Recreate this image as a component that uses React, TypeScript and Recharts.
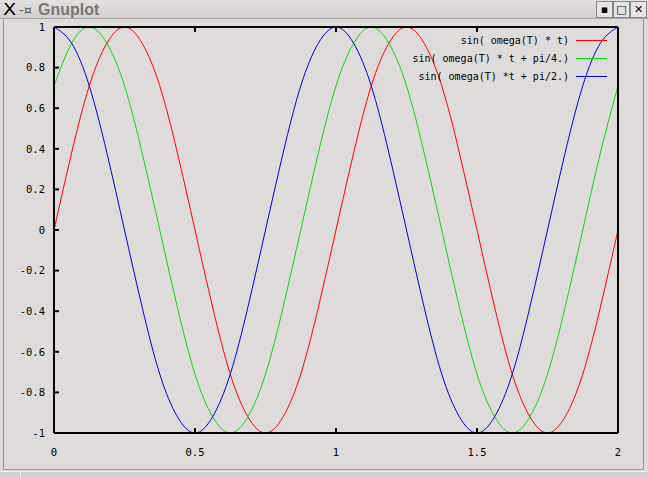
import React from 'react';
import { LineChart, Line, XAxis, YAxis, Legend } from 'recharts';

// sample points in t
const tValues = [
  0, 0.0625, 0.125, 0.1875, 0.25, 0.3125, 0.375, 0.4375, 0.5, 0.5625, 0.625, 0.6875, 0.75, 0.8125, 0.875, 0.9375,
  1, 1.0625, 1.125, 1.1875, 1.25, 1.3125, 1.375, 1.4375, 1.5, 1.5625, 1.625, 1.6875, 1.75, 1.8125, 1.875, 1.9375, 2,
];

const redValues = [
  0, 0.38, 0.71, 0.92, 1, 0.92, 0.71, 0.38, 0, -0.38, -0.71, -0.92, -1, -0.92, -0.71, -0.38,
  0, 0.38, 0.71, 0.92, 1, 0.92, 0.71, 0.38, 0, -0.38, -0.71, -0.92, -1, -0.92, -0.71, -0.38, 0,
];

const greenValues = [
  0.71, 0.92, 1, 0.92, 0.71, 0.38, 0, -0.38, -0.71, -0.92, -1, -0.92, -0.71, -0.38, 0, 0.38,
  0.71, 0.92, 1, 0.92, 0.71, 0.38, 0, -0.38, -0.71, -0.92, -1, -0.92, -0.71, -0.38, 0, 0.38, 0.71,
];

const blueValues = [
  1, 0.92, 0.71, 0.38, 0, -0.38, -0.71, -0.92, -1, -0.92, -0.71, -0.38, 0, 0.38, 0.71, 0.92,
  1, 0.92, 0.71, 0.38, 0, -0.38, -0.71, -0.92, -1, -0.92, -0.71, -0.38, 0, 0.38, 0.71, 0.92, 1,
];

const seriesNames = ['sin( omega(T) * t)', 'sin( omega(T) * t + pi/4.)', 'sin( omega(T) *t + pi/2.)'];

const xTicks = [0, 0.5, 1, 1.5, 2];
const xTickLabels = ['0', '0.5', '1', '1.5', '2'];
const yTicks = [-1, -0.8, -0.6, -0.4, -0.2, 0, 0.2, 0.4, 0.6, 0.8, 1];
const yTickLabels = ['-1', '-0.8', '-0.6', '-0.4', '-0.2', '0', '0.2', '0.4', '0.6', '0.8', '1'];

const data = tValues.map((t, i) => ({
  t,
  red: redValues[i],
  green: greenValues[i],
  blue: blueValues[i],
}));

const BG = '#dfdbdb';
const MONO = '"DejaVu Sans Mono", "Liberation Mono", monospace';
const tickFont = { fontFamily: MONO, fontSize: 10.5, fill: '#000' };

const labelFor = (ticks: number[], labels: string[]) => (v: number) => {
  const i = ticks.findIndex((x) => Math.abs(x - v) < 1e-9);
  return i >= 0 ? labels[i] : String(v);
};

// keep the plotting order (the library sorts by name otherwise)
const renderLegend = (props: any) => {
  const payload = [...(props.payload || [])].sort(
    (a: any, b: any) => seriesNames.indexOf(a.value) - seriesNames.indexOf(b.value)
  );
  return (
    <div>
      {payload.map((entry: any) => (
        <div
          key={entry.value}
          style={{ display: 'flex', justifyContent: 'flex-end', alignItems: 'center', height: 18 }}
        >
          <span style={{ fontFamily: MONO, fontSize: 10, color: '#000', marginRight: 7, whiteSpace: 'pre' }}>
            {entry.value}
          </span>
          <span style={{ display: 'inline-block', width: 31, height: 1, background: entry.color }} />
        </div>
      ))}
    </div>
  );
};

const btn: React.CSSProperties = {
  position: 'absolute',
  top: 1,
  width: 15,
  height: 15,
  border: '1px solid #888',
  background: '#e8e4e4',
  fontFamily: '"DejaVu Sans", sans-serif',
  fontSize: 11,
  fontWeight: 'bold',
  lineHeight: '15px',
  textAlign: 'center',
  color: '#000',
};

export default function App() {
  return (
    <div
      style={{
        position: 'fixed',
        top: 0,
        left: 0,
        width: 648,
        height: 478,
        background: BG,
        overflow: 'hidden',
      }}
    >
      {/* window frame */}
      <div style={{ position: 'absolute', left: 3, top: 19, width: 639, height: 450, borderLeft: '1px solid #9a9696', borderRight: '1px solid #9a9696', borderBottom: '1px solid #9a9696' }} />
      <div style={{ position: 'absolute', left: 0, top: 471, width: 648, height: 7, background: '#d4d0d0', borderTop: '1px solid #f4f0f0' }} />
      <div style={{ position: 'absolute', left: 20, top: 471, width: 1, height: 7, background: '#f4f0f0' }} />

      {/* title bar */}
      <div
        style={{
          position: 'absolute',
          top: 0,
          left: 0,
          width: 648,
          height: 18,
          background: 'linear-gradient(#e4e0e0, #d4d0d0)',
          borderBottom: '1px solid #a8a4a4',
        }}
      >
        <span style={{ position: 'absolute', left: 3, top: 1, lineHeight: '17px', fontFamily: '"DejaVu Sans", sans-serif', fontSize: 16, color: '#000', transform: 'scaleX(1.2)', transformOrigin: 'left' }}>
          X
        </span>
        <span style={{ position: 'absolute', left: 19, top: 1, lineHeight: '17px', fontFamily: '"DejaVu Sans", sans-serif', fontSize: 13, color: '#555' }}>
          -¤
        </span>
        <span
          style={{
            position: 'absolute',
            left: 38,
            top: 1,
            lineHeight: '17px',
            fontFamily: '"Liberation Sans", Arial, sans-serif',
            fontSize: 16,
            fontWeight: 'bold',
            color: '#7a7777',
          }}
        >
          Gnuplot
        </span>
        <div style={{ ...btn, left: 596 }}>▪</div>
        <div style={{ ...btn, left: 613 }}>□</div>
        <div style={{ ...btn, left: 630 }}>✕</div>
      </div>

      <div style={{ position: 'absolute', top: 0, left: 0 }}>
        <LineChart width={648} height={478} data={data} margin={{ top: 26, right: 29, bottom: 15, left: 0 }}>
          <XAxis
            dataKey="t"
            type="number"
            domain={[0, 2]}
            ticks={xTicks}
            tickFormatter={labelFor(xTicks, xTickLabels)}
            height={30}
            tickSize={-5}
            tickMargin={21}
            tick={tickFont}
            axisLine={{ stroke: '#000', strokeWidth: 2 }}
            tickLine={{ stroke: '#000', strokeWidth: 2 }}
          />
          <XAxis
            xAxisId="top"
            orientation="top"
            dataKey="t"
            type="number"
            domain={[0, 2]}
            ticks={xTicks}
            tickFormatter={() => ''}
            height={1}
            tickSize={-5}
            axisLine={{ stroke: '#000', strokeWidth: 2 }}
            tickLine={{ stroke: '#000', strokeWidth: 2 }}
          />
          <YAxis
            type="number"
            domain={[-1, 1]}
            ticks={yTicks}
            tickFormatter={labelFor(yTicks, yTickLabels)}
            width={54}
            tickSize={-5}
            tickMargin={14}
            tick={tickFont}
            axisLine={{ stroke: '#000', strokeWidth: 2 }}
            tickLine={{ stroke: '#000', strokeWidth: 2 }}
          />
          <YAxis
            yAxisId="right"
            orientation="right"
            type="number"
            domain={[-1, 1]}
            ticks={yTicks}
            tickFormatter={() => ''}
            width={1}
            tickSize={-5}
            axisLine={{ stroke: '#000', strokeWidth: 2 }}
            tickLine={{ stroke: '#000', strokeWidth: 2 }}
          />
          <Legend
            layout="vertical"
            align="center"
            verticalAlign="middle"
            content={renderLegend}
            wrapperStyle={{ left: 400, top: 31, width: 207 }}
          />
          <Line
            type="natural"
            dataKey="red"
            name={seriesNames[0]}
            stroke="#ff0000"
            strokeWidth={1}
            dot={false}
            isAnimationActive={false}
          />
          <Line
            type="natural"
            dataKey="green"
            name={seriesNames[1]}
            stroke="#00e000"
            strokeWidth={1}
            dot={false}
            isAnimationActive={false}
          />
          <Line
            type="natural"
            dataKey="blue"
            name={seriesNames[2]}
            stroke="#0000e0"
            strokeWidth={1}
            dot={false}
            isAnimationActive={false}
          />
        </LineChart>
      </div>
    </div>
  );
}
